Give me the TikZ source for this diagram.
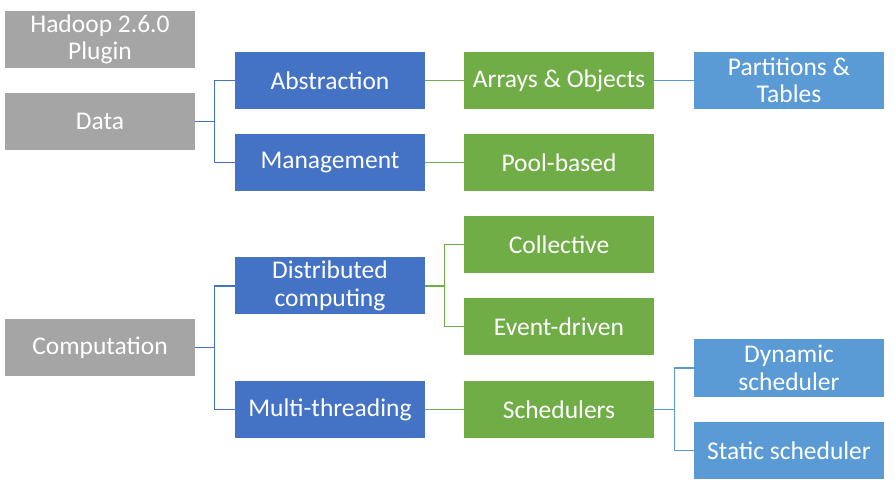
\documentclass[tikz,border=0pt]{standalone}
\usepackage{fontspec}
\setmainfont{Carlito}
\definecolor{cgray}{HTML}{A5A5A5}
\definecolor{cblue}{HTML}{4472C4}
\definecolor{cgreen}{HTML}{70AD47}
\definecolor{clblue}{HTML}{5B9BD5}
\begin{document}
\begin{tikzpicture}[x=1pt,y=-1pt,
  box/.style={rectangle, minimum width=190pt, minimum height=57pt, inner sep=0pt,
    text=white, align=center, font=\fontsize{25.5}{27.5}\selectfont},
  gbox/.style={box, fill=cgray},
  bbox/.style={box, fill=cblue},
  grbox/.style={box, fill=cgreen},
  lbbox/.style={box, fill=clblue},
  link/.style={line width=1.1pt}]
\useasboundingbox (0,0) rectangle (895,489);
\node[gbox] (hadoop) at (100,39.5) {Hadoop 2.6.0\\Plugin};
\node[gbox] (data) at (100,121.5) {Data};
\node[gbox] (comp) at (100,347.5) {Computation};
\node[bbox] (abs) at (330,80.5) {Abstraction};
\node[bbox] (mgmt) at (330,162.5) {Management};
\node[bbox] (dist) at (330,286) {Distributed\\computing};
\node[bbox] (multi) at (330,409.5) {Multi-threading};
\node[grbox] (arr) at (559,80.5) {Arrays \& Objects};
\node[grbox] (pool) at (559,162.5) {Pool-based};
\node[grbox] (coll) at (559,244.5) {Collective};
\node[grbox] (event) at (559,326.5) {Event-driven};
\node[grbox] (sched) at (559,409.5) {Schedulers};
\node[lbbox] (part) at (789,80.5) {Partitions \&\\Tables};
\node[lbbox] (dyn) at (789,368) {Dynamic\\scheduler};
\node[lbbox] (stat) at (789,450.5) {Static scheduler};
\draw[link, cblue] (data.east) -- ++(19,0) |- (abs.west);
\draw[link, cblue] (data.east) -- ++(19,0) |- (mgmt.west);
\draw[link, cblue] (comp.east) -- ++(19,0) |- (dist.west);
\draw[link, cblue] (comp.east) -- ++(19,0) |- (multi.west);
\draw[link, cgreen] (abs.east) -- (arr.west);
\draw[link, cgreen] (mgmt.east) -- (pool.west);
\draw[link, cgreen] (dist.east) -- ++(19,0) |- (coll.west);
\draw[link, cgreen] (dist.east) -- ++(19,0) |- (event.west);
\draw[link, cgreen] (multi.east) -- (sched.west);
\draw[link, clblue] (arr.east) -- (part.west);
\draw[link, clblue] (sched.east) -- ++(20,0) |- (dyn.west);
\draw[link, clblue] (sched.east) -- ++(20,0) |- (stat.west);
\end{tikzpicture}
\end{document}
